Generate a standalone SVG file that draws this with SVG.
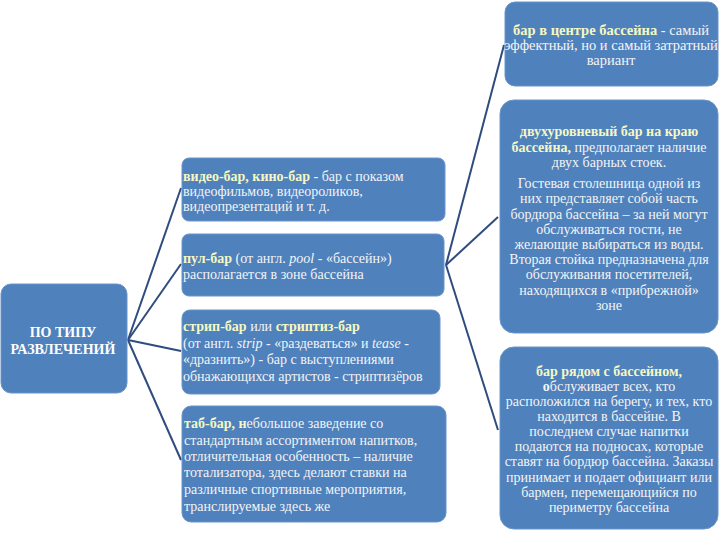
<svg xmlns="http://www.w3.org/2000/svg" width="720" height="540" viewBox="0 0 720 540">
<style>
.box{fill:#4F81BD;stroke:#6A94C8;stroke-width:1}
.t{font-family:"Liberation Serif","Times New Roman",serif;font-size:14px;fill:#F4F4F4}
.r{font-size:14.5px}
.c{text-anchor:middle}
.h{font-weight:bold;fill:#F6F8C2}
.i{font-style:italic}
.root{font-family:"Liberation Serif","Times New Roman",serif;font-size:14px;font-weight:bold;fill:#FFFFFF;text-anchor:middle}
.ln{stroke:#2F4C7E;stroke-width:2;fill:none}
</style>
<rect width="720" height="540" fill="#FFFFFF"/>
<g id="connectors">
<line class="ln" x1="128" y1="340" x2="181" y2="188"/>
<line class="ln" x1="128" y1="340" x2="181" y2="264"/>
<line class="ln" x1="128" y1="340" x2="181" y2="351"/>
<line class="ln" x1="128" y1="340" x2="181" y2="460"/>
<line class="ln" x1="446" y1="265" x2="504" y2="45"/>
<line class="ln" x1="446" y1="265" x2="498" y2="217"/>
<line class="ln" x1="446" y1="265" x2="498" y2="430"/>
</g>
<g id="root">
<rect class="box" x="1" y="284" width="126" height="109" rx="10"/>
<text class="root" x="63" y="337">ПО ТИПУ</text>
<text class="root" x="63" y="354">РАЗВЛЕЧЕНИЙ</text>
</g>
<g id="video-bar">
<rect class="box" x="182" y="158" width="263" height="63" rx="7"/>
<text class="t" x="183" y="181"><tspan class="h">видео-бар, кино-бар</tspan> - бар с показом</text>
<text class="t" x="183" y="196">видеофильмов, видеороликов,</text>
<text class="t" x="183" y="211">видеопрезентаций и т. д.</text>
</g>
<g id="pool-bar">
<rect class="box" x="182" y="234" width="262" height="62" rx="7"/>
<text class="t" x="183" y="263"><tspan class="h">пул-бар</tspan> (от англ. <tspan class="i">pool</tspan> - «бассейн»)</text>
<text class="t" x="183" y="279">располагается в зоне бассейна</text>
</g>
<g id="strip-bar">
<rect class="box" x="182" y="310" width="258" height="84" rx="8"/>
<text class="t" x="183" y="331"><tspan class="h">стрип-бар</tspan> или <tspan class="h">стриптиз-бар</tspan></text>
<text class="t" x="183" y="348">(от англ. <tspan class="i">strip</tspan> - «раздеваться» и <tspan class="i">tease</tspan>  -</text>
<text class="t" x="183" y="364">«дразнить»)  - бар с выступлениями</text>
<text class="t" x="183" y="381">обнажающихся артистов - стриптизёров</text>
</g>
<g id="tab-bar">
<rect class="box" x="182" y="406" width="264" height="116" rx="9"/>
<text class="t" x="184" y="428"><tspan class="h">таб-бар, н</tspan>ебольшое заведение со</text>
<text class="t" x="184" y="445">стандартным ассортиментом напитков,</text>
<text class="t" x="184" y="461">отличительная особенность – наличие</text>
<text class="t" x="184" y="477">тотализатора, здесь делают ставки на</text>
<text class="t" x="184" y="494">различные спортивные мероприятия,</text>
<text class="t" x="184" y="511">транслируемые здесь же</text>
</g>
<g id="center-bar">
<rect class="box" x="505" y="2" width="213" height="84" rx="10"/>
<text class="t r c" x="611" y="35"><tspan class="h">бар в центре бассейна</tspan> - самый</text>
<text class="t r c" x="611" y="50">эффектный, но и самый затратный</text>
<text class="t r c" x="611" y="65">вариант</text>
</g>
<g id="edge-bar">
<rect class="box" x="500" y="100" width="218" height="233" rx="14"/>
<text class="t c" x="609" y="136"><tspan class="h">двухуровневый бар на краю</tspan></text>
<text class="t c" x="609" y="152"><tspan class="h">бассейна,</tspan> предполагает наличие</text>
<text class="t c" x="609" y="167">двух барных стоек.</text>
<text class="t c" x="609" y="188">Гостевая столешница одной из</text>
<text class="t c" x="609" y="203">них представляет собой часть</text>
<text class="t c" x="609" y="219">бордюра бассейна – за ней могут</text>
<text class="t c" x="609" y="234">обслуживаться гости, не</text>
<text class="t c" x="609" y="249">желающие выбираться из воды.</text>
<text class="t c" x="609" y="264">Вторая стойка предназначена для</text>
<text class="t c" x="609" y="279">обслуживания посетителей,</text>
<text class="t c" x="609" y="295">находящихся в «прибрежной»</text>
<text class="t c" x="609" y="310">зоне</text>
</g>
<g id="near-bar">
<rect class="box" x="500" y="347" width="218" height="182" rx="14"/>
<text class="t c" x="609" y="376"><tspan class="h">бар рядом с бассейном,</tspan></text>
<text class="t c" x="609" y="391"><tspan font-weight="bold">о</tspan>бслуживает всех, кто</text>
<text class="t c" x="609" y="406">расположился на берегу, и тех, кто</text>
<text class="t c" x="609" y="421">находится в бассейне. В</text>
<text class="t c" x="609" y="436">последнем случае напитки</text>
<text class="t c" x="609" y="451">подаются на подносах, которые</text>
<text class="t c" x="609" y="466">ставят на бордюр бассейна. Заказы</text>
<text class="t c" x="609" y="482">принимает и подает официант или</text>
<text class="t c" x="609" y="497">бармен, перемещающийся по</text>
<text class="t c" x="609" y="512">периметру бассейна</text>
</g>
</svg>
